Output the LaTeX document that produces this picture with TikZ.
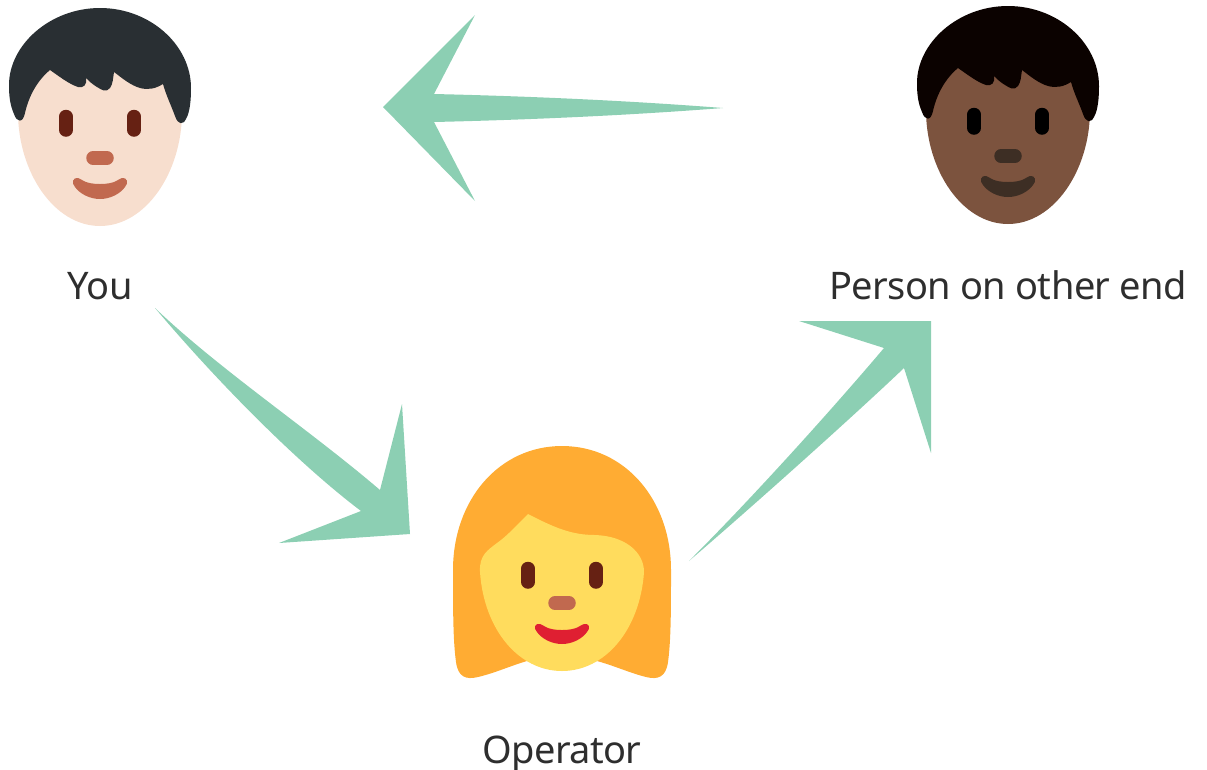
\documentclass[tikz,border=0pt]{standalone}
\usepackage{fontspec}
\setmainfont{Noto Sans}[Scale=1]
\definecolor{arrowgreen}{HTML}{8CCFB3}
\definecolor{txt}{HTML}{2E2E2E}
\definecolor{hairA}{HTML}{292F33}
\definecolor{skinA}{HTML}{F7DECE}
\definecolor{eyeA}{HTML}{662113}
\definecolor{noseA}{HTML}{C1694F}
\definecolor{hairB}{HTML}{0B0200}
\definecolor{skinB}{HTML}{7C533E}
\definecolor{eyeB}{HTML}{000000}
\definecolor{noseB}{HTML}{3D2E24}
\definecolor{hairC}{HTML}{FFAC33}
\definecolor{skinC}{HTML}{FFDC5D}
\definecolor{mouthC}{HTML}{DF1F32}
\tikzset{
  lbl/.style={font=\fontsize{38}{44}\selectfont\addfontfeatures{LetterSpace=-1.5}, text=txt, inner sep=0pt, anchor=base},
  flow/.style={fill=arrowgreen, draw=none},
  rounded feature/.style={line cap=round, line width=13.5pt},
}
% #1 dx, #2 dy, #3 hair, #4 skin, #5 eye, #6 nose/mouth
\newcommand{\manface}[6]{%
\begin{scope}[shift={(#1,#2)}]
  \fill[#4] (18,112) .. controls (18,172) and (54,226) .. (100,226) .. controls (146,226) and (182,172) .. (182,112) .. controls (182,60) and (146,30) .. (100,30) .. controls (54,30) and (18,60) .. (18,112) -- cycle;
  \fill[#3] (100,8) .. controls (150,8) and (191,45) .. (191,88) .. controls (191,100) and (190,112) .. (186,119)
    .. controls (183,125) and (178,125) .. (175,116)
    .. controls (171,105) and (166,95) .. (163,84)
    .. controls (155,89) and (148,90) .. (140,88)
    .. controls (130,85) and (122,78) .. (114,72)
    .. controls (113,78) and (113,84) .. (110,88)
    .. controls (106,93) and (102,90) .. (97,87)
    .. controls (92,84) and (89,81) .. (86,78)
    .. controls (87,85) and (84,88) .. (78,87)
    .. controls (69,84) and (60,77) .. (50,70)
    .. controls (38,80) and (29,95) .. (25,113)
    .. controls (23,123) and (17,123) .. (14,114)
    .. controls (10,105) and (9,96) .. (9,85)
    .. controls (9,45) and (50,8) .. (100,8) -- cycle;
  \draw[#5, rounded feature] (66,116.5) -- (66,130);
  \draw[#5, rounded feature] (134,116.5) -- (134,130);
  \draw[#6, rounded feature] (93,158) -- (107,158);
  \fill[#6] (75,187) .. controls (71,183) and (73,177) .. (78,178) .. controls (82,179) and (84,184) .. (100,184) .. controls (116,184) and (118,179) .. (122,178) .. controls (127,177) and (129,183) .. (125,187) .. controls (120,194) and (110,199) .. (100,199) .. controls (90,199) and (80,194) .. (75,187) -- cycle;
\end{scope}}
\begin{document}
\begin{tikzpicture}[x=1pt,y=-1pt]
\useasboundingbox (0,0) rectangle (1207,769);
% people
\manface{0}{0}{hairA}{skinA}{eyeA}{noseA}
\manface{908}{-2}{hairB}{skinB}{eyeB}{noseB}
% woman
\fill[hairC] (562,446) .. controls (625,446) and (671,500) .. (671,570) .. controls (671,610) and (671,640) .. (668,662) .. controls (666,677) and (658,680) .. (646,677) .. controls (630,673) and (615,666) .. (597,661) -- (527,661) .. controls (510,666) and (495,673) .. (478,677) .. controls (466,680) and (458,677) .. (456,662) .. controls (453,640) and (453,610) .. (453,570) .. controls (453,500) and (499,446) .. (562,446) -- cycle;
\fill[skinC] (528,514) .. controls (555,528) and (572,535) .. (595,535) .. controls (625,536) and (644,552) .. (644,572) .. controls (640,630) and (605,671) .. (562,671) .. controls (519,671) and (484,630) .. (480,572) .. controls (479,555) and (488,550) .. (497,543) .. controls (507,536) and (517,525) .. (528,514) -- cycle;
\draw[eyeA, rounded feature] (528,568.5) -- (528,582);
\draw[eyeA, rounded feature] (596,568.5) -- (596,582);
\draw[noseA, rounded feature] (555,603) -- (569,603);
\fill[mouthC] (537,632) .. controls (533,628) and (535,623) .. (540,624) .. controls (544,625) and (546,630) .. (562,630) .. controls (578,630) and (580,625) .. (584,624) .. controls (589,623) and (591,628) .. (587,632) .. controls (582,639) and (572,644) .. (562,644) .. controls (552,644) and (542,639) .. (537,632) -- cycle;
% labels
\node[lbl] (you) at (100,299) {You};
\node[lbl] (other) at (1008,299) {Person on other end};
\node[lbl] (operator) at (562,763) {Operator};
% arrow anchor points
\coordinate (aTail) at (723,108); \coordinate (aTip) at (383,107);
\coordinate (aB1) at (475,15); \coordinate (aB2) at (475,201);
\coordinate (aN1) at (434,94); \coordinate (aN2) at (434,122);
\coordinate (bTail) at (155,308); \coordinate (bTip) at (410,534);
\coordinate (bB1) at (402,404); \coordinate (bB2) at (279,543);
\coordinate (bN1) at (380,490); \coordinate (bN2) at (361,511);
\coordinate (cTail) at (689,561); \coordinate (cTip) at (931,321);
\coordinate (cB1) at (799,321); \coordinate (cB2) at (931,453);
\coordinate (cN1) at (884,348); \coordinate (cN2) at (904,368);
\fill[flow] (aTail) .. controls (620,100) and (520,96) .. (aN1) -- (aB1) -- (aTip) -- (aB2) -- (aN2) .. controls (520,120) and (620,116) .. (aTail) -- cycle;
\fill[flow] (bTail) .. controls (220,370) and (310,430) .. (bN1) -- (bB1) -- (bTip) -- (bB2) -- (bN2) .. controls (300,465) and (220,385) .. (bTail) -- cycle;
\fill[flow] (cTail) .. controls (760,490) and (840,400) .. (cN1) -- (cB1) -- (cTip) -- (cB2) -- (cN2) .. controls (860,410) and (760,500) .. (cTail) -- cycle;
\end{tikzpicture}
\end{document}
